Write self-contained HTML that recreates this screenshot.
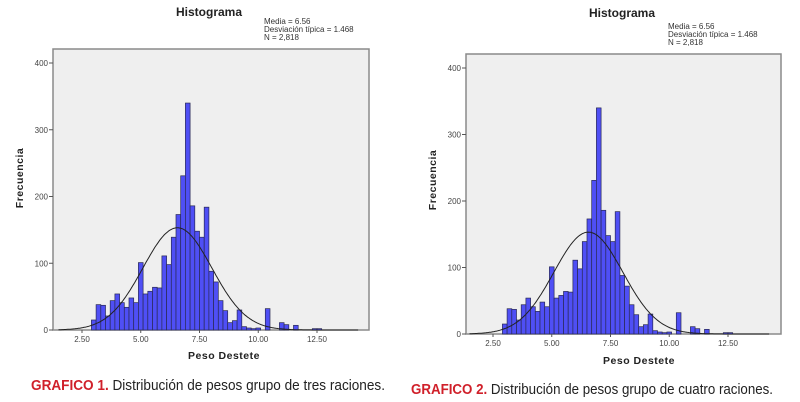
<!DOCTYPE html>
<html><head><meta charset="utf-8"><style>
html,body{margin:0;padding:0;background:#fff;}
svg{display:block;font-family:"Liberation Sans",sans-serif;}
</style></head><body>
<svg id="svg" width="800" height="402" viewBox="0 0 800 402" xmlns="http://www.w3.org/2000/svg">
<text x="31" y="390" font-size="14.5" textLength="354" lengthAdjust="spacingAndGlyphs"><tspan fill="#d0202a" font-weight="bold">GRAFICO 1.</tspan><tspan fill="#222"> Distribución de pesos grupo de tres raciones.</tspan></text>
<text x="411" y="394" font-size="14.5" textLength="362" lengthAdjust="spacingAndGlyphs"><tspan fill="#d0202a" font-weight="bold">GRAFICO 2.</tspan><tspan fill="#222"> Distribución de pesos grupo de cuatro raciones.</tspan></text>
</svg>
<script>
const binStart = 2.9;
const binWidth = 0.2;
const counts = [15,38,37,21,44,54,41,34,48,41,101,54,58,64,63,111,98,139,173,231,340,186,148,139,184,88,72,44,29,11,14,30,5,3,2,3,0,32,0,0,11,8,0,7,0,0,0,2,2];
const mean = 6.56, sd = 1.468, nTotal = 2818;
const yTicks = [0,100,200,300,400];
const yTickLabels = ["0","100","200","300","400"];
const xTicks = [2.5,5,7.5,10,12.5];
const xTickLabels = ["2.50","5.00","7.50","10.00","12.50"];
const stats = ["Media = 6.56","Desviación típica = 1.468","N = 2,818"];

const NS = "http://www.w3.org/2000/svg";
const svg = document.getElementById('svg');
function mk(tag, attrs, parent){const e=document.createElementNS(NS,tag);for(const k in attrs)e.setAttribute(k,attrs[k]);(parent||svg).appendChild(e);return e;}

function chart(cfg, idx){
  const g = mk('g',{});
  
  
  const xs = v => cfg.x25 + (v-2.5)*(cfg.x125-cfg.x25)/10;
  const ys = v => cfg.y0 - v*(cfg.y0-cfg.y400)/400;
  const bg = mk('rect',{x:cfg.left,y:cfg.top,width:cfg.right-cfg.left,height:cfg.y0-cfg.top,fill:'#efefef',stroke:'#8a8a8a','stroke-width':1.5},g);
  
  
  counts.forEach((c,i)=>{
    if(c<=0) return;
    const x0 = xs(binStart + i*binWidth), x1 = xs(binStart + (i+1)*binWidth);
    const r = mk('rect',{x:x0,y:ys(c),width:x1-x0,height:ys(0)-ys(c),fill:'#4f4ff5',stroke:'#2a2a55','stroke-width':0.7},g);
    
    
  });
  let d='';
  const peak = nTotal*binWidth/(sd*Math.sqrt(2*Math.PI));
  for(let v=1.5; v<=14.3; v+=0.05){
    const f = peak*Math.exp(-0.5*((v-mean)/sd)**2);
    d += (d?'L':'M') + xs(v).toFixed(1) + ',' + ys(f).toFixed(1);
  }
  const p = mk('path',{d:d,fill:'none',stroke:'#222','stroke-width':1},g);
  
  
  yTicks.forEach((t,i)=>{
    mk('line',{x1:cfg.left-4,x2:cfg.left,y1:ys(t),y2:ys(t),stroke:'#555'},g);
    const tx = mk('text',{x:cfg.left-5,y:ys(t)+3,'font-size':8,'text-anchor':'end',fill:'#444'},g);
    tx.textContent = yTickLabels[i];
    
    
  });
  xTicks.forEach((t,i)=>{
    mk('line',{x1:xs(t),x2:xs(t),y1:cfg.y0,y2:cfg.y0+3,stroke:'#555'},g);
    const tx = mk('text',{x:xs(t),y:cfg.y0+12,'font-size':8,'text-anchor':'middle',fill:'#444'},g);
    tx.textContent = xTickLabels[i];
    
    
  });
  const title = mk('text',{x:cfg.titleX,y:cfg.titleY,'font-size':12,'font-weight':'bold','text-anchor':'middle',fill:'#222'},g);
  title.textContent = 'Histograma';
  
  
  stats.forEach((s,i)=>{
    const tx = mk('text',{x:cfg.statsX,y:cfg.statsY+i*8,'font-size':8,fill:'#333'},g);
    tx.textContent = s;
    
    
  });
  const xl = mk('text',{x:cfg.xlabX,y:cfg.xlabY,'font-size':10.5,'font-weight':'bold','text-anchor':'middle',fill:'#222','letter-spacing':'0.5'},g);
  xl.textContent = 'Peso Destete';
  
  
  const yl = mk('text',{x:0,y:0,'font-size':10.5,'font-weight':'bold','text-anchor':'middle',fill:'#222','letter-spacing':'0.5',transform:`translate(${cfg.ylabX},${cfg.ylabY}) rotate(-90)`},g);
  yl.textContent = 'Frecuencia';
  
  
}
chart({left:53,right:369,top:49,y0:330,y400:63,x25:82,x125:317,titleX:209,titleY:16,statsX:264,statsY:24,xlabX:224,xlabY:359,ylabX:23,ylabY:178},1);
chart({left:466,right:781,top:54,y0:334,y400:68,x25:493,x125:728,titleX:622,titleY:17,statsX:668,statsY:29,xlabX:639,xlabY:364,ylabX:436,ylabY:180},2);
</script>
</body></html>
